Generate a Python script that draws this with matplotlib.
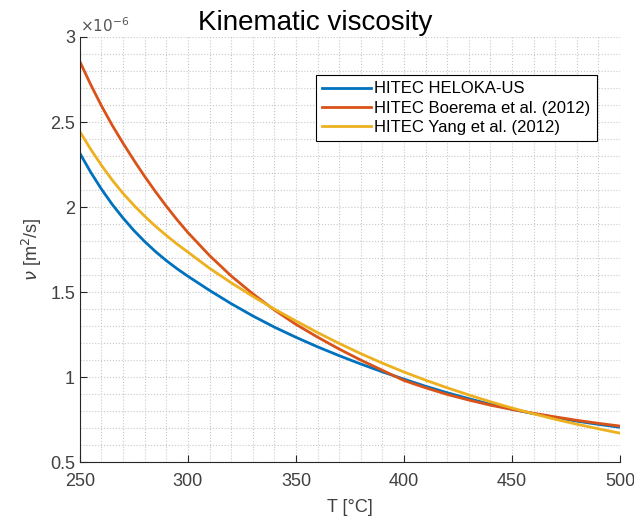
import matplotlib.pyplot as plt
import numpy as np
from matplotlib.ticker import MultipleLocator, FuncFormatter

plt.rcParams['font.family'] = ['Liberation Sans', 'DejaVu Sans']

# Temperature [°C]
T = [250, 255, 260, 265, 270, 275, 280, 285, 290, 295, 300,
     310, 320, 330, 340, 350, 360, 370, 380, 390, 400,
     410, 420, 430, 440, 450, 460, 470, 480, 490, 500]

# kinematic viscosity, in units of 1e-6 m^2/s
nu_heloka = [2.316, 2.205, 2.105, 2.015, 1.935, 1.862, 1.797, 1.738, 1.685, 1.637, 1.593,
             1.51, 1.432, 1.36, 1.294, 1.234, 1.178, 1.126, 1.077, 1.031, 0.988,
             0.946, 0.908, 0.873, 0.840, 0.811, 0.785, 0.762, 0.741, 0.722, 0.705]
nu_boerema = [2.855, 2.72, 2.595, 2.48, 2.375, 2.275, 2.18, 2.09, 2.005, 1.925, 1.85,
              1.715, 1.595, 1.49, 1.395, 1.31, 1.235, 1.165, 1.10, 1.04, 0.98,
              0.937, 0.898, 0.865, 0.835, 0.81, 0.787, 0.766, 0.746, 0.728, 0.712]
nu_yang = [2.443, 2.34, 2.245, 2.158, 2.08, 2.01, 1.946, 1.887, 1.833, 1.782, 1.735,
           1.64, 1.555, 1.475, 1.40, 1.33, 1.262, 1.198, 1.138, 1.082, 1.03,
           0.982, 0.937, 0.895, 0.855, 0.818, 0.784, 0.752, 0.723, 0.696, 0.67]

labels = ['HITEC HELOKA-US', 'HITEC Boerema et al. (2012)', 'HITEC Yang et al. (2012)']
colors = ['#0072BD', '#D95319', '#EDB120']

fig = plt.figure(figsize=(6.34, 5.21), dpi=100)
ax = fig.add_axes([0.126, 0.113, 0.852, 0.816])

for y, lab, c in zip([nu_heloka, nu_boerema, nu_yang], labels, colors):
    ax.plot(T, y, color=c, lw=2, label=lab, solid_joinstyle='round')

ax.set_xlim(250, 500)
ax.set_ylim(0.5, 3)
ax.xaxis.set_major_locator(MultipleLocator(50))
ax.xaxis.set_minor_locator(MultipleLocator(10))
ax.yaxis.set_major_locator(MultipleLocator(0.5))
ax.yaxis.set_minor_locator(MultipleLocator(0.1))
ax.yaxis.set_major_formatter(FuncFormatter(lambda v, p: f'{v:g}'))

ax.grid(which='both', linestyle=':', color='#c8c8c8', lw=0.8)
ax.set_axisbelow(True)
for s in ['top', 'right']:
    ax.spines[s].set_visible(False)
for s in ['left', 'bottom']:
    ax.spines[s].set_color('#262626')
ax.tick_params(which='major', direction='in', length=5, colors='#262626',
               labelcolor='#404040', labelsize=13)
ax.tick_params(axis='x', pad=8)
ax.tick_params(which='minor', length=0)

ax.text(0.0, 1.005, r'$\times10^{-6}$', transform=ax.transAxes, fontsize=11,
        color='#555555', va='bottom', ha='left')

fig.text(0.497, 0.955, 'Kinematic viscosity', fontsize=20, ha='center', va='center')
ax.set_xlabel('T [°C]', fontsize=13, color='#404040', labelpad=6)
ax.set_ylabel(r'$\nu$ [m$^2$/s]', fontsize=13, color='#404040')

leg = ax.legend(loc='upper right', bbox_to_anchor=(0.957, 0.911), fontsize=12,
                fancybox=False, edgecolor='black', framealpha=1, handlelength=2.9,
                borderpad=0.4, labelspacing=0.25, handletextpad=0.2,
                borderaxespad=0)
leg.get_frame().set_linewidth(0.8)

fig.savefig('out.png', dpi=100)
